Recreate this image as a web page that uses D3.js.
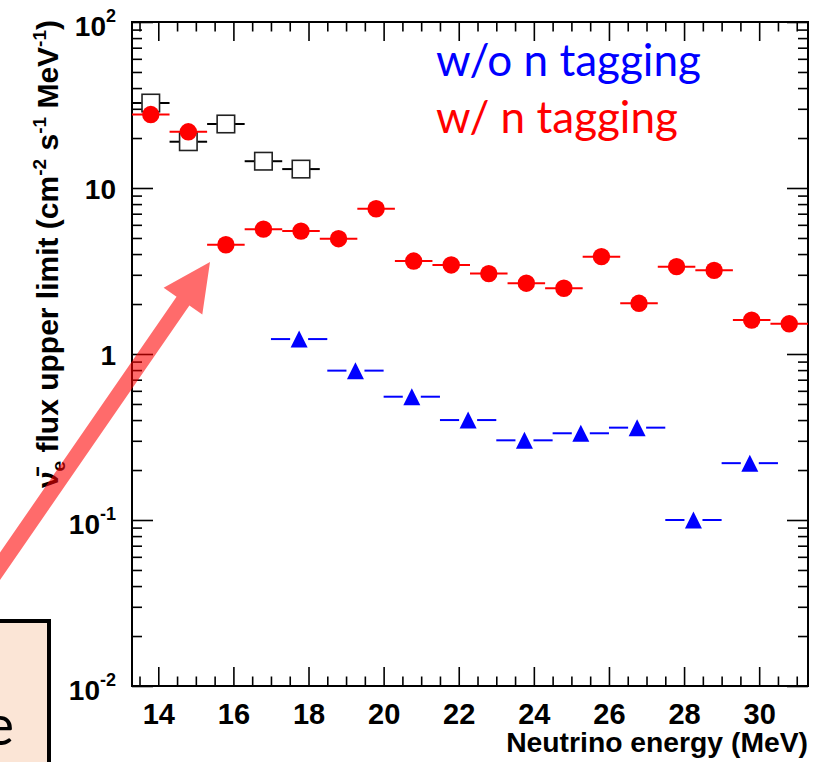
<!DOCTYPE html>
<html>
<head>
<meta charset="utf-8">
<script src="https://cdn.jsdelivr.net/npm/d3@7"></script>
<style>
  html, body { margin: 0; padding: 0; background: #fff; }
  svg { display: block; }
  .tk text { font-family: "Liberation Sans", Arial, Helvetica, sans-serif; font-weight: bold; fill: #000; }
</style>
</head>
<body>
<svg id="chart" width="819" height="762"></svg>
<script>
// Upper limits on the electron antineutrino flux per energy bin (cm^-2 s^-1 MeV^-1)

// Earlier limit, 1 MeV bins (open squares)
const oldEnergy = [13.8, 14.8, 15.8, 16.8, 17.8];
const oldLimit  = [32.5, 19.0, 24.3, 14.5, 13.0];
const oldHalfWidth = 0.5;

// With neutron tagging, 1 MeV bins (red circles)
const tagEnergy = [13.8, 14.8, 15.8, 16.8, 17.8, 18.8, 19.8, 20.8, 21.8, 22.8, 23.8, 24.8, 25.8, 26.8, 27.8, 28.8, 29.8, 30.8];
const tagLimit  = [27.7, 21.8, 4.55, 5.65, 5.5, 4.95, 7.5, 3.63, 3.44, 3.05, 2.67, 2.49, 3.86, 2.02, 3.36, 3.19, 1.60, 1.52];
const tagHalfWidth = 0.5;

// Without neutron tagging, 1.5 MeV bins (blue triangles)
const noTagEnergy = [17.75, 19.25, 20.75, 22.25, 23.75, 25.25, 26.75, 28.25, 29.75];
const noTagLimit  = [1.23, 0.794, 0.553, 0.400, 0.302, 0.333, 0.360, 0.100, 0.220];
const noTagHalfWidth = 0.75;

// Axes
const xDomain = [13.3, 31.3];
const yDomain = [0.01, 100];
const xMajorTicks = [14, 16, 18, 20, 22, 24, 26, 28, 30];
const yMajorTicks = [0.01, 0.1, 1, 10, 100];
const yTickExponents = ["-2", "-1", null, null, "2"];
const yTickBases = ["10", "10", "1", "10", "10"];

const legendLabels = ["w/o n tagging", "w/ n tagging"];
const legendColors = ["#0000ff", "#ff0000"];

const xTitle = "Neutrino energy (MeV)";

// ---------------------------------------------------------------
const svg = d3.select("#chart");
const plot = { left: 132, right: 808, top: 22, bottom: 686 };

const x = d3.scaleLinear().domain(xDomain).range([plot.left, plot.right]);
const y = d3.scaleLog().domain(yDomain).range([plot.bottom, plot.top]);

const xMinorTicks = d3.range(xDomain[0], xDomain[1], 0.5)
  .map(v => Math.round(v * 2) / 2)
  .filter(v => v > xDomain[0] && v < xDomain[1] && !xMajorTicks.includes(v));
const yMinorTicks = [];
[0.01, 0.1, 1, 10].forEach(d => { for (let k = 2; k <= 9; k++) yMinorTicks.push(d * k); });

// Bottom-left text box (partly off the page)
svg.append("rect")
  .attr("x", -60).attr("y", 621).attr("width", 109).attr("height", 200)
  .attr("fill", "#fbe5d6").attr("stroke", "#000").attr("stroke-width", 4);
svg.append("text")
  .attr("x", 14).attr("y", 745).attr("text-anchor", "end")
  .attr("font-family", "Lato, 'Open Sans', sans-serif").attr("font-size", 56)
  .attr("fill", "#000").text("e");

// Tick helper
function tickAxis(gen, tr, size, values, labels) {
  const g = svg.append("g").attr("class", "tk").attr("transform", tr)
    .call(gen.tickValues(values).tickSize(size).tickPadding(labels ? labels.pad : 0)
      .tickFormat(labels ? labels.fmt : () => ""));
  g.select(".domain").remove();
  g.selectAll(".tick line").attr("stroke", "#000").attr("stroke-width", 1.6);
  return g;
}

// X axis: bottom with labels, top mirrored
const xb = tickAxis(d3.axisBottom(x), `translate(0,${plot.bottom})`, -19, xMajorTicks,
  { pad: 17, fmt: d3.format("d") });
xb.selectAll("text").attr("font-size", 29);
tickAxis(d3.axisBottom(x), `translate(0,${plot.bottom})`, -9.5, xMinorTicks);
tickAxis(d3.axisTop(x), `translate(0,${plot.top})`, -19, xMajorTicks);
tickAxis(d3.axisTop(x), `translate(0,${plot.top})`, -9.5, xMinorTicks);

// Y axis: left with power-of-ten labels, right mirrored
const yl = tickAxis(d3.axisLeft(y), `translate(${plot.left},0)`, -21, yMajorTicks,
  { pad: 16, fmt: () => "" });
yl.selectAll(".tick text").each(function(d, i) {
  const t = d3.select(this).attr("font-size", 28).text(yTickBases[i]);
  if (yTickExponents[i]) {
    t.attr("dy", "0.48em");
    t.append("tspan").attr("dy", -14).attr("font-size", 18).text(yTickExponents[i]);
  } else {
    t.attr("dy", "0.36em");
  }
});
tickAxis(d3.axisLeft(y), `translate(${plot.left},0)`, -10, yMinorTicks);
tickAxis(d3.axisRight(y), `translate(${plot.right},0)`, -21, yMajorTicks);
tickAxis(d3.axisRight(y), `translate(${plot.right},0)`, -10, yMinorTicks);

// Frame
svg.append("rect")
  .attr("x", plot.left).attr("y", plot.top)
  .attr("width", plot.right - plot.left).attr("height", plot.bottom - plot.top)
  .attr("fill", "none").attr("stroke", "#000").attr("stroke-width", 2);

// X title
svg.append("text")
  .attr("x", plot.right).attr("y", 752).attr("text-anchor", "end")
  .attr("font-family", "'Liberation Sans', Arial, sans-serif").attr("font-weight", "bold")
  .attr("font-size", 28.3).attr("fill", "#000").text(xTitle);

// Y title (rotated), with the antineutrino symbol and unit exponents
const yTitle = svg.append("text")
  .attr("transform", `translate(58,20) rotate(-90)`)
  .attr("text-anchor", "end")
  .attr("font-family", "'Liberation Sans', Arial, sans-serif").attr("font-weight", "bold")
  .attr("font-size", 30).attr("fill", "#000");
yTitle.append("tspan").text("\u03BD\u0304");
yTitle.append("tspan").attr("font-size", 19).attr("dy", 7).text("e");
yTitle.append("tspan").attr("dy", -7).text(" flux upper limit (cm");
yTitle.append("tspan").attr("font-size", 19).attr("dy", -12).text("-2");
yTitle.append("tspan").attr("dy", 12).text(" s");
yTitle.append("tspan").attr("font-size", 19).attr("dy", -12).text("-1");
yTitle.append("tspan").attr("dy", 12).text(" MeV");
yTitle.append("tspan").attr("font-size", 19).attr("dy", -12).text("-1");
yTitle.append("tspan").attr("dy", 12).text(")");

// Horizontal bin bars with a gap around the marker
function binBars(energies, limits, half, gap, color, width) {
  const g = svg.append("g");
  energies.forEach((e, i) => {
    const cx = x(e), cy = y(limits[i]);
    const segs = gap > 0 ? [[x(e - half), cx - gap], [cx + gap, x(e + half)]] : [[x(e - half), x(e + half)]];
    segs.forEach(s => g.append("line")
      .attr("x1", s[0]).attr("x2", s[1]).attr("y1", cy).attr("y2", cy)
      .attr("stroke", color).attr("stroke-width", width));
  });
}

// Open squares
binBars(oldEnergy, oldLimit, oldHalfWidth, 9, "#000", 2);
svg.append("g").selectAll("rect").data(oldEnergy).join("rect")
  .attr("x", (d) => x(d) - 8.75).attr("y", (d, i) => y(oldLimit[i]) - 8.75)
  .attr("width", 17.5).attr("height", 17.5)
  .attr("fill", "#fff").attr("stroke", "#222").attr("stroke-width", 1.6);

// Blue triangles
binBars(noTagEnergy, noTagLimit, noTagHalfWidth, 9, "#0000ff", 2);
svg.append("g").selectAll("path").data(noTagEnergy).join("path")
  .attr("transform", (d, i) => `translate(${x(d)},${y(noTagLimit[i])})`)
  .attr("d", "M0,-8.5 L8.5,8.5 L-8.5,8.5 Z")
  .attr("fill", "#0000ff");

// Red circles
binBars(tagEnergy, tagLimit, tagHalfWidth, 0, "#ff0000", 2);
svg.append("g").selectAll("circle").data(tagEnergy).join("circle")
  .attr("cx", d => x(d)).attr("cy", (d, i) => y(tagLimit[i]))
  .attr("r", 8.7).attr("fill", "#ff0000");

// Legend text
const legendFont = "Lato, 'Open Sans', sans-serif";
const legendY = [76, 133];
const legendTexts = legendLabels.map((s, i) => svg.append("text")
  .attr("x", 436).attr("y", legendY[i])
  .attr("font-family", legendFont).attr("font-size", 40)
  .attr("fill", legendColors[i]).text(s));
const w0 = legendTexts[0].node().getComputedTextLength();
const legendSize = 40 * 265 / w0;
legendTexts.forEach(t => t.attr("font-size", legendSize));

// Translucent annotation arrow pointing at the 15.8 MeV bin
const tip = [210, 262];
const dir = [0.568, -0.823];
const nrm = [-dir[1], dir[0]];
const headLen = 47.6, headHalf = 23.5, shaftHalf = 7.8, shaftLen = 420;
const base = [tip[0] - headLen * dir[0], tip[1] - headLen * dir[1]];
const tail = [base[0] - shaftLen * dir[0], base[1] - shaftLen * dir[1]];
const P = (p, n, s) => [p[0] + n[0] * s, p[1] + n[1] * s];
const arrowPts = [
  tip,
  P(base, nrm, headHalf),
  P(base, nrm, shaftHalf),
  P(tail, nrm, shaftHalf),
  P(tail, nrm, -shaftHalf),
  P(base, nrm, -shaftHalf),
  P(base, nrm, -headHalf)
];
svg.append("path")
  .attr("d", d3.line()(arrowPts) + "Z")
  .attr("fill", "#ff0000").attr("fill-opacity", 0.58);
</script>
</body>
</html>
